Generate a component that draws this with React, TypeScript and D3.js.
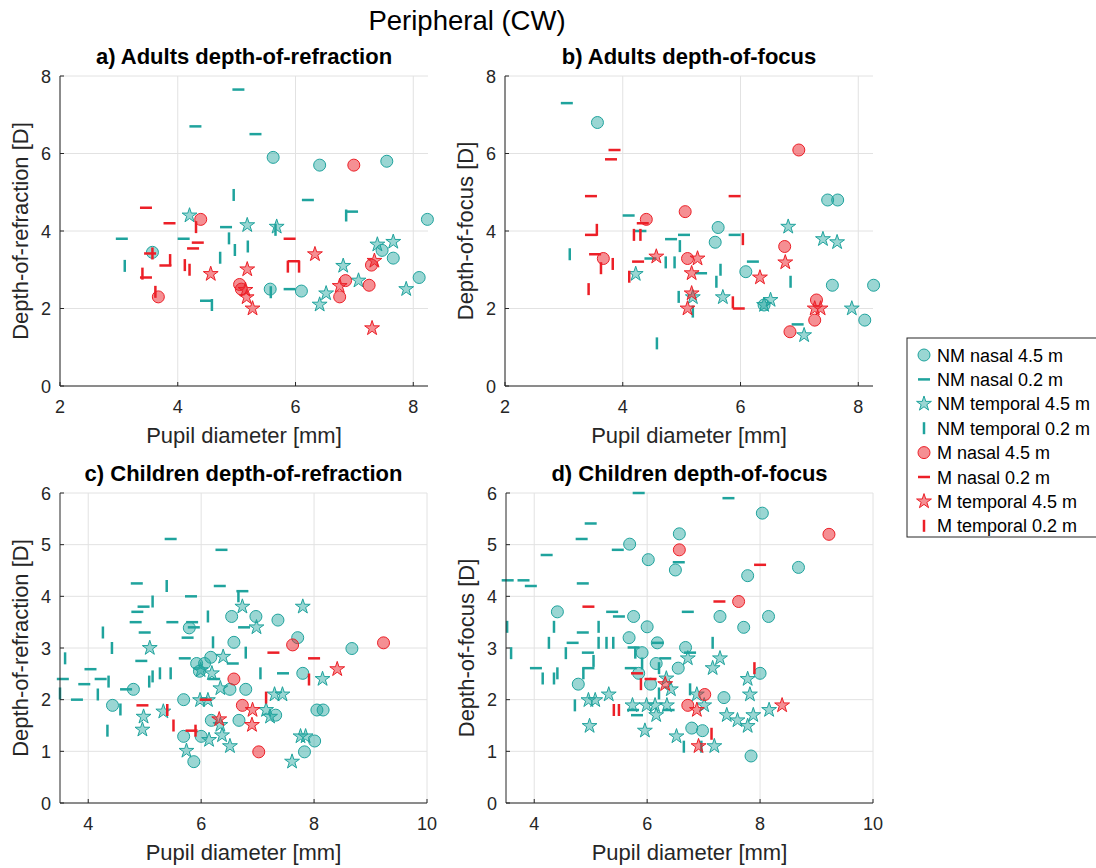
import React from "react";
import * as d3 from "d3";

type Pt = [number, number];

// ---- a) Adults depth-of-refraction ----
const aNmNasalFar: Pt[] = [[3.57,3.45],[5.62,5.9],[6.41,5.7],[7.55,5.8],[5.57,2.5],[6.10,2.45],[7.47,3.5],[7.66,3.3],[8.10,2.8],[8.24,4.3]];
const aNmNasalNear: Pt[] = [[5.03,7.65],[4.30,6.7],[5.32,6.5],[3.05,3.8],[4.10,3.8],[4.82,4.1],[6.21,4.8],[6.96,4.5],[4.48,2.2],[5.90,2.5]];
const aNmTempFar: Pt[] = [[4.20,4.4],[5.18,4.15],[5.68,4.11],[6.41,2.1],[6.52,2.39],[6.81,3.1],[7.07,2.72],[7.39,3.65],[7.66,3.72],[7.88,2.5]];
const aNmTempNear: Pt[] = [[3.10,3.1],[4.95,4.93],[4.87,3.81],[4.97,3.51],[5.19,3.6],[4.72,3.31],[4.58,2.09],[5.58,2.42],[5.66,4.03],[6.86,4.4]];
const aMNasalFar: Pt[] = [[4.39,4.3],[3.67,2.3],[5.05,2.62],[5.08,2.5],[6.99,5.7],[6.75,2.3],[6.85,2.72],[7.25,2.6],[7.29,3.12]];
const aMNasalNear: Pt[] = [[3.46,4.6],[3.86,4.2],[4.34,3.7],[4.26,3.55],[3.46,2.8],[3.79,3.11],[3.53,3.42],[5.90,3.8],[5.97,3.22]];
const aMTempFar: Pt[] = [[4.56,2.89],[5.18,3.01],[5.15,2.48],[5.17,2.29],[5.27,2.0],[6.33,3.4],[6.75,2.58],[7.34,3.23],[7.30,1.49]];
const aMTempNear: Pt[] = [[3.40,2.9],[3.62,2.43],[3.57,3.42],[3.87,3.25],[4.12,3.12],[4.20,3.0],[4.31,4.1],[5.87,3.08],[6.06,3.08]];

// ---- b) Adults depth-of-focus ----
const bNmNasalFar: Pt[] = [[3.57,6.8],[5.62,4.09],[5.57,3.71],[6.09,2.95],[6.40,2.09],[7.48,4.8],[7.65,4.8],[7.56,2.6],[8.26,2.6],[8.11,1.7]];
const bNmNasalNear: Pt[] = [[3.05,7.3],[4.10,4.4],[4.30,4.0],[4.82,3.79],[5.04,3.9],[4.47,3.29],[5.33,2.91],[5.90,3.9],[6.21,3.21],[6.97,1.59]];
const bNmTempFar: Pt[] = [[4.22,2.89],[5.19,2.29],[5.70,2.29],[6.40,2.09],[6.51,2.22],[6.81,4.11],[7.08,1.31],[7.40,3.79],[7.64,3.71],[7.89,2.0]];
const bNmTempNear: Pt[] = [[3.10,3.4],[4.58,1.1],[4.73,3.19],[4.88,3.19],[4.97,3.61],[4.95,2.3],[5.19,1.92],[5.66,3.0],[5.59,2.69],[6.85,2.69]];
const bMNasalFar: Pt[] = [[4.40,4.3],[3.67,3.29],[5.06,4.5],[5.10,3.29],[6.99,6.09],[6.75,3.6],[6.84,1.4],[7.29,2.22],[7.26,1.7]];
const bMNasalNear: Pt[] = [[3.86,6.09],[3.80,5.85],[3.46,4.9],[3.46,3.9],[3.53,3.4],[4.26,3.21],[4.34,4.2],[5.90,4.9],[5.97,2.0]];
const bMTempFar: Pt[] = [[4.57,3.34],[5.10,2.0],[5.17,2.91],[5.17,2.39],[5.27,3.29],[6.33,2.8],[6.76,3.19],[7.26,2.0],[7.36,2.0]];
const bMTempNear: Pt[] = [[3.42,2.5],[3.56,4.03],[3.63,3.04],[3.83,3.15],[4.11,2.82],[4.19,3.9],[4.30,3.9],[5.87,2.16],[6.04,3.79]];

// ---- c) Children depth-of-refraction ----
const cNmNasalFar: Pt[] = [[4.43,1.89],[4.80,2.2],[5.79,3.39],[5.69,2.0],[5.69,1.29],[5.87,0.8],[5.92,2.7],[6.06,2.7],[6.17,2.82],[6.0,1.29],[6.18,1.6],[6.54,3.61],[6.58,3.11],[6.51,2.2],[6.67,1.6],[6.79,2.2],[6.97,3.61],[7.36,3.54],[7.71,3.2],[7.80,2.51],[7.32,1.7],[7.83,0.99],[8.01,1.2],[8.05,1.8],[8.16,1.8],[8.67,2.99],[5.97,2.55]];
const cNmNasalNear: Pt[] = [[5.46,5.11],[6.36,4.9],[4.86,4.25],[6.33,4.2],[5.82,4.0],[4.98,3.8],[4.87,3.7],[4.84,3.5],[5.49,3.5],[5.84,3.5],[5.87,3.4],[5.0,3.3],[5.76,3.2],[4.94,2.75],[5.71,2.8],[6.73,4.1],[6.76,3.4],[6.56,2.7],[6.23,2.4],[7.45,2.51],[4.04,2.59],[4.22,2.4],[3.55,2.4],[3.93,2.3],[3.80,2.0],[4.67,2.2]];
const cNmTempFar: Pt[] = [[5.09,3.0],[4.98,1.67],[4.96,1.42],[5.33,1.77],[5.74,1.01],[5.98,1.99],[6.12,1.99],[6.14,1.22],[5.99,2.57],[6.19,2.51],[6.39,2.83],[6.34,2.22],[6.34,1.51],[6.37,1.31],[6.51,1.1],[6.73,3.8],[6.98,3.4],[7.15,1.8],[7.22,1.67],[7.30,2.1],[7.44,2.1],[7.80,3.8],[8.15,2.4],[7.61,0.8],[7.76,1.29],[7.85,1.29]];
const cNmTempNear: Pt[] = [[3.59,2.8],[3.50,2.12],[4.17,2.1],[4.36,2.35],[4.34,1.4],[4.26,3.3],[4.42,3.0],[4.57,1.81],[5.14,3.9],[5.08,2.35],[5.14,2.45],[5.27,2.51],[5.46,2.51],[5.39,4.2],[6.12,3.61],[6.21,3.11],[6.66,4.0],[6.79,2.91],[7.05,2.51]];
const cMNasalFar: Pt[] = [[7.62,3.06],[9.23,3.1],[6.58,2.4],[6.73,1.89],[7.02,0.99]];
const cMNasalNear: Pt[] = [[4.96,1.89],[6.08,2.0],[5.83,1.4],[7.28,2.91],[8.0,2.8]];
const cMTempFar: Pt[] = [[6.32,1.62],[6.91,1.8],[6.90,1.51],[8.41,2.59]];
const cMTempNear: Pt[] = [[5.40,1.8],[5.51,1.5],[5.90,1.4],[7.15,2.04],[7.91,2.39]];

// ---- d) Children depth-of-focus ----
const dNmNasalFar: Pt[] = [[4.41,3.7],[4.78,2.3],[5.69,5.01],[5.76,3.61],[5.68,3.2],[6.02,4.71],[6.0,3.41],[5.91,2.91],[6.18,3.1],[6.16,2.7],[6.06,2.3],[5.85,2.51],[6.57,5.21],[6.5,4.51],[6.68,3.01],[6.55,2.61],[6.79,1.45],[6.98,1.4],[7.29,3.61],[7.36,2.04],[7.78,4.4],[7.71,3.4],[8.04,5.61],[8.15,3.61],[8.0,2.51],[7.84,0.91],[8.68,4.56]];
const dNmNasalNear: Pt[] = [[5.85,6.0],[7.44,5.9],[5.0,5.41],[4.84,5.11],[4.22,4.8],[5.48,4.9],[3.53,4.31],[3.81,4.31],[3.94,4.2],[4.86,4.25],[5.38,3.7],[5.5,3.61],[4.86,3.3],[4.68,3.1],[4.95,2.91],[4.96,2.61],[4.03,2.61],[5.71,2.61],[5.76,3.01],[5.82,1.7],[5.75,1.8],[6.19,3.1],[6.32,2.8],[6.56,4.66],[6.72,3.7],[6.76,2.91],[6.38,1.8]];
const dNmTempFar: Pt[] = [[4.98,1.49],[4.96,1.99],[5.08,1.99],[5.32,2.1],[5.74,1.89],[5.96,1.4],[5.99,1.89],[6.16,1.7],[6.14,1.89],[6.35,1.89],[6.34,2.41],[6.42,2.2],[6.52,1.29],[6.72,2.8],[6.88,2.1],[7.01,1.89],[7.16,2.61],[7.29,2.8],[7.19,1.1],[7.41,1.7],[7.6,1.6],[7.78,2.4],[7.82,2.1],[7.78,1.49],[7.88,1.7],[8.16,1.8]];
const dNmTempNear: Pt[] = [[3.52,3.41],[3.59,2.9],[4.15,2.41],[4.26,3.1],[4.35,3.41],[4.35,2.41],[4.41,2.51],[4.56,2.9],[4.72,1.89],[4.87,2.51],[5.05,2.75],[5.14,3.41],[5.14,3.1],[5.28,3.1],[5.40,3.1],[5.79,2.91],[5.91,2.7],[6.21,2.61],[6.21,2.12],[6.76,2.2],[6.65,1.09],[7.16,3.1],[6.96,1.09]];
const dMNasalFar: Pt[] = [[6.57,4.9],[7.62,3.9],[9.22,5.2],[6.72,1.89],[7.02,2.1]];
const dMNasalNear: Pt[] = [[4.96,3.8],[7.28,3.9],[8.0,4.61],[5.82,2.51],[6.06,2.4]];
const dMTempFar: Pt[] = [[6.32,2.3],[6.88,1.8],[6.91,1.1],[8.39,1.89]];
const dMTempNear: Pt[] = [[5.41,1.8],[5.5,1.8],[5.89,2.3],[7.9,2.61],[7.14,1.34]];

const legendLabels = [
  "NM nasal 4.5 m", "NM nasal 0.2 m", "NM temporal 4.5 m", "NM temporal 0.2 m",
  "M nasal 4.5 m", "M nasal 0.2 m", "M temporal 4.5 m", "M temporal 0.2 m",
];

const TEAL = "#1fa39d";
const TEAL_FILL = "rgba(31,163,157,0.45)";
const RED = "#ec1f27";
const RED_FILL = "rgba(236,31,39,0.5)";
const FONT = "'Liberation Sans', Arial, Helvetica, sans-serif";

type Kind = "circle" | "hbar" | "star" | "vbar";

const starPath = (() => {
  const ro = 7.8, ri = ro * 0.382;
  const pts: string[] = [];
  for (let i = 0; i < 10; i++) {
    const r = i % 2 === 0 ? ro : ri;
    const a = -Math.PI / 2 + (i * Math.PI) / 5;
    pts.push(`${(r * Math.cos(a)).toFixed(2)},${(r * Math.sin(a)).toFixed(2)}`);
  }
  return "M" + pts.join("L") + "Z";
})();

function Marker({ kind, x, y, red }: { kind: Kind; x: number; y: number; red: boolean }) {
  const stroke = red ? RED : TEAL;
  const fill = red ? RED_FILL : TEAL_FILL;
  if (kind === "circle") return <circle cx={x} cy={y} r={6} fill={fill} stroke={stroke} strokeWidth={1} />;
  if (kind === "star") return <path d={starPath} transform={`translate(${x},${y})`} fill={fill} stroke={stroke} strokeWidth={1} />;
  if (kind === "hbar") return <line x1={x - 6} x2={x + 6} y1={y} y2={y} stroke={stroke} strokeWidth={2.5} />;
  return <line x1={x} x2={x} y1={y - 6} y2={y + 6} stroke={stroke} strokeWidth={2.5} />;
}

interface PanelProps {
  left: number; top: number; width: number; height: number;
  xDomain: [number, number]; yDomain: [number, number];
  xTicks: number[]; yTicks: number[];
  title: string; yLabel: string;
  series: { data: Pt[]; kind: Kind; red: boolean }[];
}

function Panel(p: PanelProps) {
  const x = d3.scaleLinear().domain(p.xDomain).range([p.left, p.left + p.width]);
  const y = d3.scaleLinear().domain(p.yDomain).range([p.top + p.height, p.top]);
  const bottom = p.top + p.height;
  const right = p.left + p.width;
  return (
    <g>
      {p.xTicks.map((t) => (
        <line key={"gx" + t} x1={x(t)} x2={x(t)} y1={p.top} y2={bottom} stroke="#e2e2e2" strokeWidth={1} />
      ))}
      {p.yTicks.map((t) => (
        <line key={"gy" + t} x1={p.left} x2={right} y1={y(t)} y2={y(t)} stroke="#e2e2e2" strokeWidth={1} />
      ))}
      {p.series.map((s, si) =>
        s.data.map((d, i) => <Marker key={si + "-" + i} kind={s.kind} x={x(d[0])} y={y(d[1])} red={s.red} />)
      )}
      <line x1={p.left} x2={right} y1={bottom} y2={bottom} stroke="#262626" strokeWidth={1} />
      <line x1={p.left} x2={p.left} y1={p.top} y2={bottom} stroke="#262626" strokeWidth={1} />
      {p.xTicks.map((t) => (
        <g key={"tx" + t}>
          <line x1={x(t)} x2={x(t)} y1={bottom} y2={bottom - 4} stroke="#262626" />
          <text x={x(t)} y={bottom + 27} textAnchor="middle" fontSize={18} fill="#262626">{t}</text>
        </g>
      ))}
      {p.yTicks.map((t) => (
        <g key={"ty" + t}>
          <line x1={p.left} x2={p.left + 4} y1={y(t)} y2={y(t)} stroke="#262626" />
          <text x={p.left - 9} y={y(t) + 6.5} textAnchor="end" fontSize={18} fill="#262626">{t}</text>
        </g>
      ))}
      <text x={(p.left + right) / 2} y={p.top - 12} textAnchor="middle" fontSize={22} fontWeight="bold" fill="#000">{p.title}</text>
      <text x={(p.left + right) / 2} y={bottom + 57} textAnchor="middle" fontSize={22} fill="#262626">Pupil diameter [mm]</text>
      <text transform={`translate(${p.left - 32},${(p.top + bottom) / 2}) rotate(-90)`} textAnchor="middle" fontSize={22} fill="#262626">{p.yLabel}</text>
    </g>
  );
}

const kinds: Kind[] = ["circle", "hbar", "star", "vbar"];
function mk(list: Pt[][]) {
  return list.map((data, i) => ({ data, kind: kinds[i % 4], red: i >= 4 }));
}

export default function App() {
  const legendX = 907, legendY = 338;
  return (
    <svg width={1096} height={868} style={{ position: "absolute", left: 0, top: 0, fontFamily: FONT }}>
      <rect width={1096} height={868} fill="#fff" />
      <text x={467} y={30} textAnchor="middle" fontSize={27.5} fill="#000">Peripheral (CW)</text>
      <Panel left={60} top={76} width={368} height={310} xDomain={[2, 8.25]} yDomain={[0, 8]}
        xTicks={[2, 4, 6, 8]} yTicks={[0, 2, 4, 6, 8]} title="a) Adults depth-of-refraction" yLabel="Depth-of-refraction [D]"
        series={mk([aNmNasalFar, aNmNasalNear, aNmTempFar, aNmTempNear, aMNasalFar, aMNasalNear, aMTempFar, aMTempNear])} />
      <Panel left={505} top={76} width={368} height={310} xDomain={[2, 8.25]} yDomain={[0, 8]}
        xTicks={[2, 4, 6, 8]} yTicks={[0, 2, 4, 6, 8]} title="b) Adults depth-of-focus" yLabel="Depth-of-focus [D]"
        series={mk([bNmNasalFar, bNmNasalNear, bNmTempFar, bNmTempNear, bMNasalFar, bMNasalNear, bMTempFar, bMTempNear])} />
      <Panel left={60} top={493} width={367} height={310} xDomain={[3.5, 10]} yDomain={[0, 6]}
        xTicks={[4, 6, 8, 10]} yTicks={[0, 1, 2, 3, 4, 5, 6]} title="c) Children depth-of-refraction" yLabel="Depth-of-refraction [D]"
        series={mk([cNmNasalFar, cNmNasalNear, cNmTempFar, cNmTempNear, cMNasalFar, cMNasalNear, cMTempFar, cMTempNear])} />
      <Panel left={506} top={493} width={367} height={310} xDomain={[3.5, 10]} yDomain={[0, 6]}
        xTicks={[4, 6, 8, 10]} yTicks={[0, 1, 2, 3, 4, 5, 6]} title="d) Children depth-of-focus" yLabel="Depth-of-focus [D]"
        series={mk([dNmNasalFar, dNmNasalNear, dNmTempFar, dNmTempNear, dMNasalFar, dMNasalNear, dMTempFar, dMTempNear])} />
      <g>
        <rect x={legendX} y={legendY} width={200} height={199} fill="#fff" stroke="#262626" strokeWidth={1} />
        {legendLabels.map((lab, i) => {
          const cy = legendY + 17 + i * 24.4;
          return (
            <g key={lab}>
              <Marker kind={kinds[i % 4]} x={legendX + 17} y={cy} red={i >= 4} />
              <text x={legendX + 30} y={cy + 6.5} fontSize={18} fill="#000">{lab}</text>
            </g>
          );
        })}
      </g>
    </svg>
  );
}
